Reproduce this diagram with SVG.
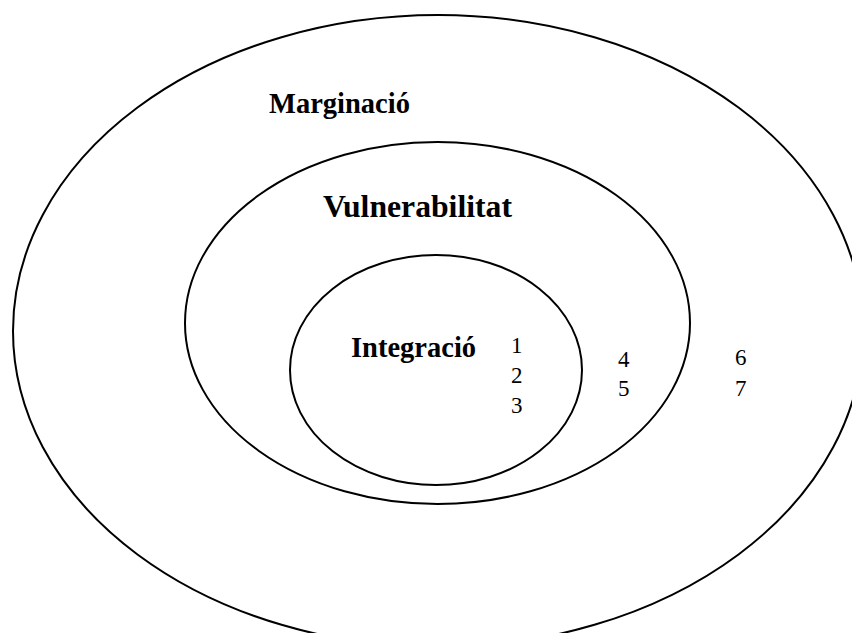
<svg xmlns="http://www.w3.org/2000/svg" width="852" height="633" viewBox="0 0 852 633">
<style>
.ring{fill:none;stroke:#000;stroke-width:2}
.lbl{font-family:"Liberation Serif","Times New Roman",serif;font-weight:bold;fill:#000}
.num{font-family:"Liberation Serif","Times New Roman",serif;font-size:23px;fill:#000}
</style>
<rect width="852" height="633" fill="#fff"/>
<g id="marginacio">
<ellipse class="ring" cx="438" cy="331" rx="425" ry="316"/>
<text class="lbl" x="269" y="113" font-size="28.5">Marginació</text>
<text class="num" x="735" y="365">6</text>
<text class="num" x="735" y="396">7</text>
</g>
<g id="vulnerabilitat">
<ellipse class="ring" cx="437.5" cy="323" rx="252.5" ry="181"/>
<text class="lbl" x="323" y="217" font-size="31.7">Vulnerabilitat</text>
<text class="num" x="618" y="367">4</text>
<text class="num" x="618" y="396">5</text>
</g>
<g id="integracio">
<ellipse class="ring" cx="436" cy="370" rx="146" ry="115"/>
<text class="lbl" x="351" y="357" font-size="28.5">Integració</text>
<text class="num" x="511" y="353">1</text>
<text class="num" x="511" y="383">2</text>
<text class="num" x="511" y="413">3</text>
</g>
<g id="connectors"/>
</svg>
